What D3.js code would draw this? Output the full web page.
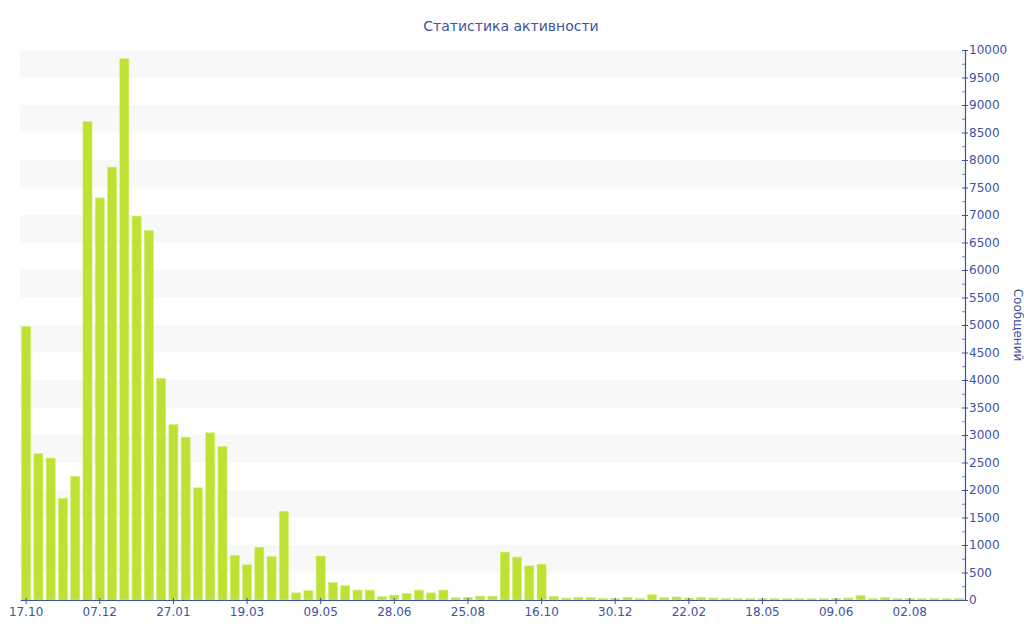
<!DOCTYPE html>
<html>
<head>
<meta charset="utf-8">
<script src="https://cdn.jsdelivr.net/npm/d3@7/dist/d3.min.js"></script>
<style>
  html, body { margin: 0; padding: 0; background: #fff; }
  svg { display: block; font-family: "DejaVu Sans", Verdana, sans-serif; }
</style>
</head>
<body>
<svg id="chart" width="1024" height="640"></svg>
<script>
const title = "Статистика активности";
const yTitle = "Сообщений";
const values = [
  4970, 2660, 2580, 1850, 2250, 8700, 7310, 7870, 9840, 6980,
  6720, 4030, 3190, 2960, 2040, 3040, 2790, 810, 640, 960,
  790, 1610, 130, 170, 800, 320, 260, 180, 180, 60,
  90, 120, 180, 130, 180, 40, 50, 70, 70, 870,
  780, 620, 650, 65, 35, 50, 42, 30, 30, 48,
  30, 95, 42, 55, 36, 48, 36, 30, 30, 30,
  25, 25, 25, 25, 25, 25, 25, 36, 79, 24,
  42, 24, 24, 24, 24, 24, 24
];
const categories = values.map((d, i) => i);
const tickIndexes = [0, 6, 12, 18, 24, 30, 36, 42, 48, 54, 60, 66, 72];
const tickLabels = ["17.10", "07.12", "27.01", "19.03", "09.05", "28.06", "25.08",
                    "16.10", "30.12", "22.02", "18.05", "09.06", "02.08"];
const yMax = 10000;
const yMajor = d3.range(0, yMax + 1, 500);
const yMinor = d3.range(250, yMax, 500);
const bandStarts = d3.range(500, yMax, 1000);

const textColor = "#3e52a0";
const barColor = "#bde233";

const svg = d3.select("#chart");
const mLeft = 20, mRight = 965, mTop = 50, mBottom = 600;

const x = d3.scaleBand().domain(categories).range([mLeft, mRight]).paddingInner(0.26).paddingOuter(0.13);
const y = d3.scaleLinear().domain([0, yMax]).range([mBottom, mTop]);

// alternating bands
svg.append("g").selectAll("rect").data(bandStarts).join("rect")
  .attr("x", mLeft).attr("width", mRight - mLeft)
  .attr("y", d => y(d + 500)).attr("height", d => y(d) - y(d + 500))
  .attr("fill", "#f8f8f8");

// bars
svg.append("g").selectAll("rect").data(values).join("rect")
  .attr("x", (d, i) => x(categories[i]))
  .attr("width", x.bandwidth())
  .attr("y", d => y(d))
  .attr("height", d => y(0) - y(d))
  .attr("fill", barColor)
  .attr("stroke", "#d2ee74")
  .attr("stroke-width", 0.6);

// bottom axis
const xAxis = d3.axisBottom(x)
  .tickValues(tickIndexes)
  .tickFormat(d => tickLabels[tickIndexes.indexOf(d)])
  .tickSizeInner(4).tickSizeOuter(0).tickPadding(3);
const gx = svg.append("g").attr("transform", `translate(0,${mBottom})`).call(xAxis);
gx.select(".domain").attr("stroke", textColor).attr("stroke-width", 1.2);
gx.selectAll(".tick line").attr("stroke", textColor).attr("y1", -2);
gx.selectAll(".tick text").attr("fill", textColor).attr("font-size", 12).attr("font-family", "DejaVu Sans");

// right axis
const yAxis = d3.axisRight(y).tickValues(yMajor).tickFormat(d3.format("d"))
  .tickSizeInner(3).tickSizeOuter(0).tickPadding(1);
const gy = svg.append("g").attr("transform", `translate(${mRight},0)`).call(yAxis);
gy.select(".domain").attr("stroke", textColor).attr("stroke-width", 1.2);
gy.selectAll(".tick line").attr("stroke", textColor).attr("x1", -3);
gy.selectAll(".tick text").attr("fill", textColor).attr("font-size", 12).attr("font-family", "DejaVu Sans");

const yMinorAxis = d3.axisLeft(y).tickValues(yMinor).tickFormat("").tickSizeInner(3).tickSizeOuter(0);
const gym = svg.append("g").attr("transform", `translate(${mRight},0)`).call(yMinorAxis);
gym.select(".domain").remove();
gym.selectAll(".tick line").attr("stroke", textColor).attr("stroke-opacity", 0.7);

// title
svg.append("text").attr("x", 511).attr("y", 31).attr("text-anchor", "middle")
  .attr("fill", textColor).attr("font-size", 14).text(title);

// y axis title
svg.append("text").attr("transform", `translate(1014,${(mTop + mBottom) / 2}) rotate(90)`)
  .attr("text-anchor", "middle").attr("fill", textColor).attr("font-size", 12).text(yTitle);
</script>
</body>
</html>
